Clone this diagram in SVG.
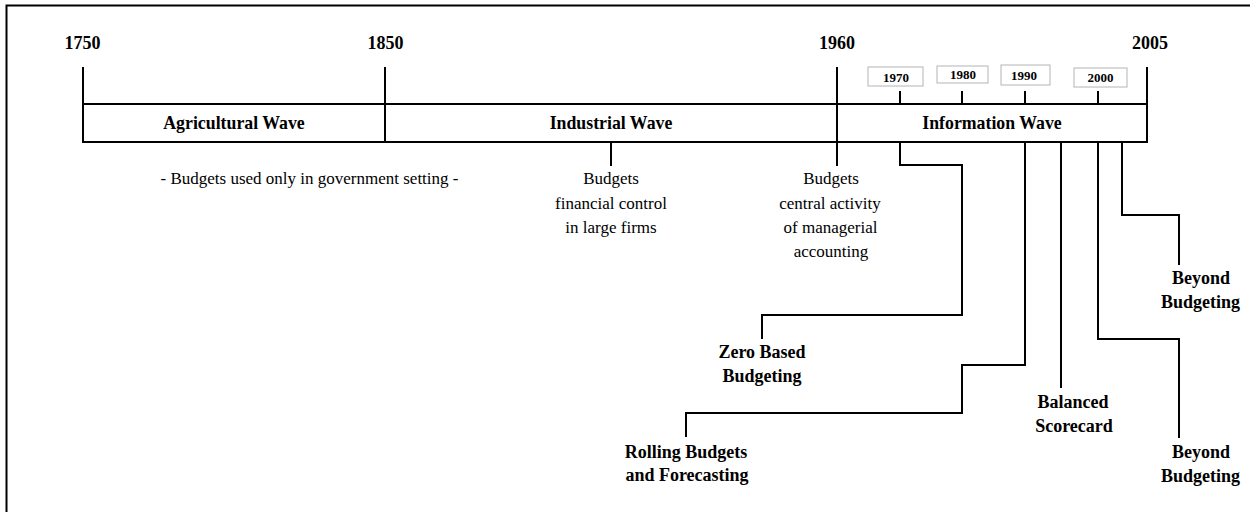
<svg xmlns="http://www.w3.org/2000/svg" width="1250" height="512" viewBox="0 0 1250 512">
  <style>
    .ln { fill: none; stroke: #000; stroke-width: 2; }
    .frame { fill: none; stroke: #000; stroke-width: 2; }
    .yr { font-family: "Liberation Serif", "Times New Roman", serif; font-weight: bold; font-size: 18px; text-anchor: middle; fill: #000; }
    .wave { font-family: "Liberation Serif", "Times New Roman", serif; font-weight: bold; font-size: 17.8px; text-anchor: middle; fill: #000; }
    .note { font-family: "Liberation Serif", "Times New Roman", serif; font-size: 17px; text-anchor: middle; fill: #000; }
    .lbl { font-family: "Liberation Serif", "Times New Roman", serif; font-weight: bold; font-size: 18px; text-anchor: middle; fill: #000; }
    .dec rect { fill: #fff; stroke: #b4b4b4; stroke-width: 1; }
    .dec text { font-family: "Liberation Serif", "Times New Roman", serif; font-weight: bold; font-size: 13px; text-anchor: middle; fill: #000; }
  </style>

  <rect width="1250" height="512" fill="#fff"/>
  <!-- outer frame, open to the right and bottom -->
  <path class="frame" d="M6.5,512 V5.5 H1250"/>

  <!-- era boundary years -->
  <g id="years">
    <text class="yr" x="82.5" y="49">1750</text>
    <text class="yr" x="385.5" y="49">1850</text>
    <text class="yr" x="837" y="49">1960</text>
    <text class="yr" x="1150" y="49">2005</text>
  </g>

  <!-- decade markers -->
  <g id="decades" class="dec">
    <rect x="868" y="67" width="55" height="19"/>
    <text x="896" y="81.5">1970</text>
    <rect x="937" y="66" width="51" height="17"/>
    <text x="963" y="79">1980</text>
    <rect x="1001" y="65" width="49" height="20"/>
    <text x="1024" y="79.5">1990</text>
    <rect x="1074" y="68" width="53" height="19"/>
    <text x="1100.5" y="81.5">2000</text>
  </g>

  <!-- wave bands -->
  <g id="agricultural-wave">
    <text class="wave" x="234" y="129">Agricultural Wave</text>
  </g>
  <g id="industrial-wave">
    <text class="wave" x="611" y="129">Industrial Wave</text>
  </g>
  <g id="information-wave">
    <text class="wave" x="992" y="129">Information Wave</text>
  </g>

  <!-- descriptive notes -->
  <g id="note-government">
    <text class="note" x="309.5" y="184">- Budgets used only in government setting -</text>
  </g>
  <g id="note-industrial">
    <text class="note" x="611" y="184">Budgets</text>
    <text class="note" x="611" y="208.5">financial control</text>
    <text class="note" x="611" y="233">in large firms</text>
  </g>
  <g id="note-managerial">
    <text class="note" x="831" y="184">Budgets</text>
    <text class="note" x="830" y="208.5">central activity</text>
    <text class="note" x="830.5" y="233">of managerial</text>
    <text class="note" x="831" y="257">accounting</text>
  </g>

  <!-- budgeting innovations -->
  <g id="zero-based-budgeting">
    <text class="lbl" x="762" y="358">Zero Based</text>
    <text class="lbl" x="762" y="382">Budgeting</text>
  </g>
  <g id="rolling-budgets">
    <text class="lbl" x="686" y="457.5">Rolling Budgets</text>
    <text class="lbl" x="687" y="481">and Forecasting</text>
  </g>
  <g id="balanced-scorecard">
    <text class="lbl" x="1073" y="407.5">Balanced</text>
    <text class="lbl" x="1074" y="431.5">Scorecard</text>
  </g>
  <g id="beyond-budgeting-upper">
    <text class="lbl" x="1201" y="284">Beyond</text>
    <text class="lbl" x="1200.5" y="308">Budgeting</text>
  </g>
  <g id="beyond-budgeting-lower">
    <text class="lbl" x="1201" y="457.5">Beyond</text>
    <text class="lbl" x="1200.5" y="481.5">Budgeting</text>
  </g>

  <!-- timeline bar, ticks and leader lines -->
  <g id="connectors" class="ln">
    <rect x="83" y="104" width="1064" height="38"/>
    <path d="M83,67 V142 M385,67 V142 M837,67 V166 M1147,67 V142"/>
    <path d="M900,91 V104 M962,91 V104 M1025,91 V104 M1098,91 V104"/>
    <path d="M611,142 V166"/>
    <path d="M900,142 V165 H962 V315 H762 V339"/>
    <path d="M1025,142 V365 H962 V413 H686 V437"/>
    <path d="M1061,142 V388"/>
    <path d="M1098,142 V339 H1179 V438"/>
    <path d="M1122,142 V215 H1179 V265"/>
  </g>
</svg>
